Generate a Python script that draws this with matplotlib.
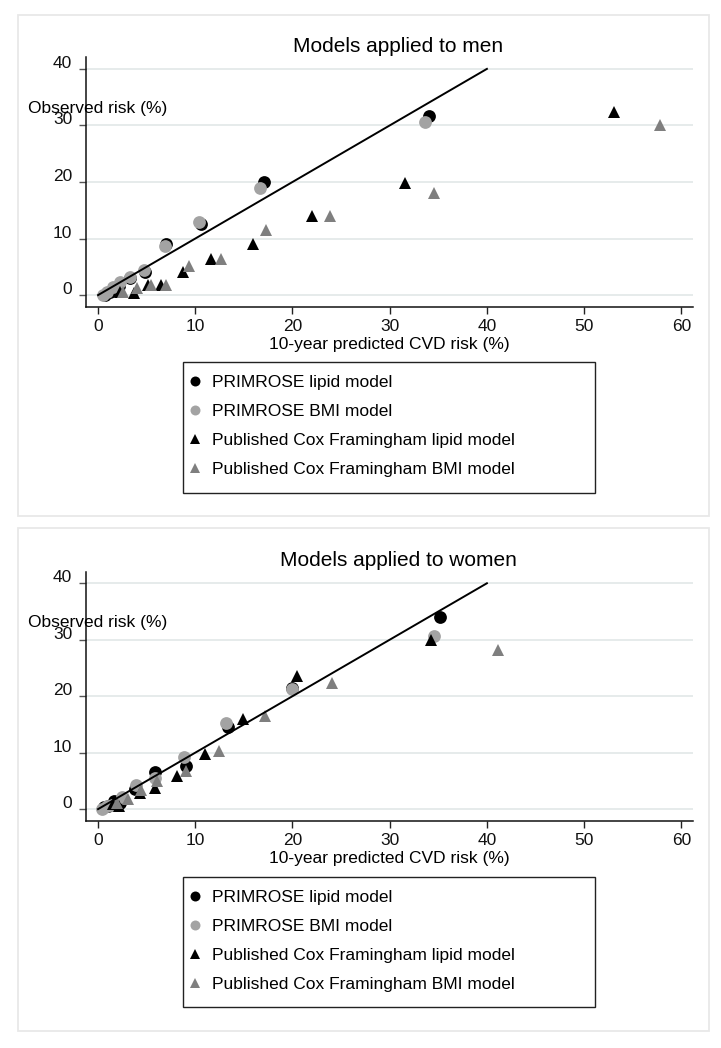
import matplotlib
matplotlib.use("Agg")
import matplotlib.pyplot as plt
from matplotlib.patches import Rectangle
from matplotlib.lines import Line2D
from matplotlib.transforms import ScaledTranslation

plt.rcParams['font.family'] = ['Liberation Sans', 'DejaVu Sans']

# ---------------- data ----------------
x_ticks = [0, 10, 20, 30, 40, 50, 60]
y_ticks = [0, 10, 20, 30, 40]
series_labels = ["PRIMROSE lipid model", "PRIMROSE BMI model",
                 "Published Cox Framingham lipid model",
                 "Published Cox Framingham BMI model"]
panel_titles = ["Models applied to men", "Models applied to women"]
x_label = "10-year predicted CVD risk (%)"
y_label = "Observed risk (%)"
ref_line_x = [0, 40]
ref_line_y = [0, 40]

# Men
men_lipid_x = [0.7, 1.2, 1.6, 2.2, 3.3, 4.8, 7.0, 10.6, 17.1, 34.0]
men_lipid_y = [0.1, 0.6, 1.0, 1.6, 3.0, 4.0, 9.1, 12.5, 20.0, 31.7]
men_bmi_x = [0.5, 0.9, 1.5, 2.3, 3.3, 4.7, 6.9, 10.4, 16.7, 33.6]
men_bmi_y = [0.0, 0.6, 1.4, 2.3, 3.2, 4.5, 8.6, 13.0, 18.9, 30.6]
men_cox_lipid_x = [2.3, 3.7, 5.1, 6.5, 8.7, 11.6, 15.9, 22.0, 31.6, 53.1]
men_cox_lipid_y = [0.5, 0.3, 1.8, 1.7, 4.1, 6.4, 9.1, 14.0, 19.9, 32.3]
men_cox_bmi_x = [2.6, 4.0, 5.4, 7.0, 9.4, 12.6, 17.3, 23.9, 34.6, 57.8]
men_cox_bmi_y = [0.6, 1.3, 1.8, 1.8, 5.2, 6.3, 11.6, 14.0, 18.1, 30.1]

# Women
women_lipid_x = [0.6, 1.0, 1.6, 2.3, 3.8, 5.9, 9.0, 13.4, 20.0, 35.2]
women_lipid_y = [0.3, 0.6, 1.4, 1.0, 3.5, 6.5, 7.6, 14.5, 21.5, 34.0]
women_bmi_x = [0.4, 0.9, 1.4, 2.5, 3.9, 5.9, 8.8, 13.2, 19.9, 34.6]
women_bmi_y = [0.0, 0.5, 0.8, 2.2, 4.2, 5.6, 9.3, 15.3, 21.2, 30.6]
women_cox_lipid_x = [1.5, 2.2, 4.3, 5.9, 8.1, 11.0, 14.9, 20.5, 34.2]
women_cox_lipid_y = [0.9, 0.5, 2.8, 3.7, 5.9, 9.8, 16.0, 23.6, 29.9]
women_cox_bmi_x = [2.0, 3.1, 4.4, 6.1, 9.0, 12.4, 17.2, 24.1, 41.1]
women_cox_bmi_y = [1.1, 1.8, 3.3, 4.9, 6.8, 10.3, 16.5, 22.4, 28.1]

panels = [
    [(men_lipid_x, men_lipid_y), (men_bmi_x, men_bmi_y),
     (men_cox_lipid_x, men_cox_lipid_y), (men_cox_bmi_x, men_cox_bmi_y)],
    [(women_lipid_x, women_lipid_y), (women_bmi_x, women_bmi_y),
     (women_cox_lipid_x, women_cox_lipid_y), (women_cox_bmi_x, women_cox_bmi_y)],
]

# ---------------- style ----------------
W, H = 721, 1048
styles = [dict(marker='o', color='#000000', ms=9.2),
          dict(marker='o', color='#a3a3a3', ms=9.2),
          dict(marker='^', color='#000000', ms=8.4),
          dict(marker='^', color='#7f7f7f', ms=8.4)]
grid_col = '#e4e9e9'
border_col = '#e8e8e8'

fig = plt.figure(figsize=(W / 100, H / 100), dpi=100)
fig.patch.set_facecolor('white')

def fx(px):
    return px / W

def fy(py):
    return 1 - py / H

layouts = [
    dict(bt=15, bb=516, at=57.3, ab=306.7, ty=46.7, yl=108, lt=362, lb=492.7),
    dict(bt=528, bb=1030.7, at=571.7, ab=820.7, ty=560, yl=622.3, lt=877, lb=1007),
]
ax_left, ax_right = 86, 693

for data, lay, title in zip(panels, layouts, panel_titles):
    fig.add_artist(Rectangle((fx(18), fy(lay['bb'])), fx(709 - 18), (lay['bb'] - lay['bt']) / H,
                             transform=fig.transFigure, fill=False, ec=border_col, lw=1.3))
    ax = fig.add_axes([fx(ax_left), fy(lay['ab']), fx(ax_right - ax_left), (lay['ab'] - lay['at']) / H])
    ax.set_xlim(-1.24, 61.2)
    ax.set_ylim(-2.05, 42.05)
    ax.set_xticks(x_ticks)
    ax.set_yticks(y_ticks)
    ax.yaxis.grid(True, color=grid_col, lw=1.3)
    ax.set_axisbelow(True)
    for s in ['top', 'right']:
        ax.spines[s].set_visible(False)
    for s in ['left', 'bottom']:
        ax.spines[s].set_color('#111111')
        ax.spines[s].set_linewidth(1.1)
    ax.tick_params(axis='both', direction='out', length=5, width=1.0, labelsize=12.5,
                   colors='#222222', labelcolor='#111111')
    ax.tick_params(axis='x', pad=3.5)
    ax.tick_params(axis='y', pad=5.0, color='#555555')

    for (xs, ys), st, lab in zip(data, styles, series_labels):
        ax.plot(xs, ys, linestyle='none', marker=st['marker'], color=st['color'],
                ms=st['ms'], mec=st['color'], mew=0, label=lab, clip_on=False)
    ax.plot(ref_line_x, ref_line_y, color='#000000', lw=1.4)

    off = ScaledTranslation(0, 0.07, fig.dpi_scale_trans)
    for t in ax.yaxis.get_major_ticks():
        t.label1.set_transform(t.label1.get_transform() + off)

    ax.set_xlabel(x_label, fontsize=12.5)
    ax.xaxis.label.set_va('center')
    ax.xaxis.set_label_coords(0.5, -37.5 / (lay['ab'] - lay['at']))

    fig.text(fx(398), fy(lay['ty']), title, ha='center', va='center', fontsize=15)
    fig.text(fx(28), fy(lay['yl']), y_label, ha='left', va='center', fontsize=12.5)

    fig.add_artist(Rectangle((fx(182.7), fy(lay['lb'])), fx(594.7 - 182.7), (lay['lb'] - lay['lt']) / H,
                             transform=fig.transFigure, fill=False, ec='#222222', lw=1.0))
    leg_handles = [Line2D([], [], linestyle='none', marker=st['marker'], color=st['color'],
                          ms=st['ms'] * 0.78, mew=0) for st in styles]
    ax.legend(leg_handles, series_labels, loc='upper left',
              bbox_to_anchor=(fx(186.5), fy(lay['lt'] + 12.5)), bbox_transform=fig.transFigure,
              frameon=False, fontsize=12.5, handlelength=1.0, handletextpad=0.45,
              labelspacing=0.8, borderpad=0, borderaxespad=0)

fig.savefig('out.png', dpi=100)
